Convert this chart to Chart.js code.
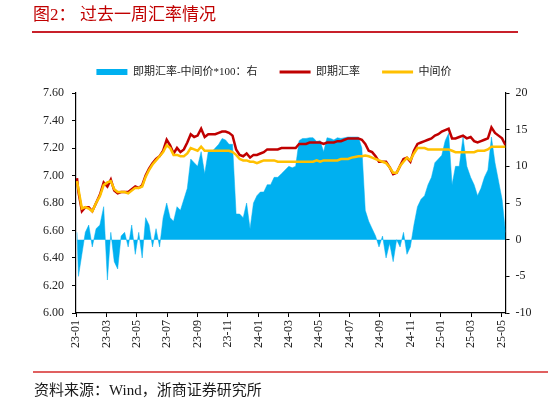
<!DOCTYPE html>
<html lang="zh-CN">
<head>
<meta charset="UTF-8">
<title>过去一周汇率情况</title>
<script src="https://cdn.jsdelivr.net/npm/chart.js"></script>
<style>
  body { margin: 0; background: #fff; }
  #page { position: relative; width: 548px; height: 403px; overflow: hidden; }
  #chartBox { position: absolute; left: 0; top: 0; width: 548px; height: 403px; }
  .title { position: absolute; top: 4px; font-size: 17px; line-height: 22px; color: #c00000;
           font-family: 'Liberation Serif', 'Noto Sans CJK SC', serif; }
  .rule { position: absolute; height: 1.5px; }
  #source { position: absolute; left: 34px; top: 381px; font-size: 15px; line-height: 18px; color: #1a1a1a;
            font-family: 'Liberation Serif', 'Noto Sans CJK SC', serif; }
</style>
</head>
<body>
<div id="page">
  <div id="chartBox"><canvas id="chart"></canvas></div>
  <div class="title" style="left:33px">图2：</div>
  <div class="title" style="left:80px">过去一周汇率情况</div>
  <div class="rule" style="left:32px; top:31px; width:486px; background:#c8202a"></div>
  <div class="rule" style="left:33px; top:371px; width:515px; background:#e06060"></div>
  <div id="source">资料来源：Wind，浙商证券研究所</div>
</div>
<script>
const dates = [
  '2023-01-03','2023-01-06','2023-01-13','2023-01-20','2023-01-27','2023-02-03','2023-02-10','2023-02-17','2023-02-24','2023-03-03',
  '2023-03-10','2023-03-17','2023-03-24','2023-03-31','2023-04-07','2023-04-14','2023-04-21','2023-04-28','2023-05-05','2023-05-12',
  '2023-05-19','2023-05-26','2023-06-02','2023-06-09','2023-06-16','2023-06-23','2023-06-30','2023-07-07','2023-07-14','2023-07-21',
  '2023-07-28','2023-08-04','2023-08-11','2023-08-18','2023-08-25','2023-09-01','2023-09-08','2023-09-15','2023-09-22','2023-09-29',
  '2023-10-06','2023-10-13','2023-10-20','2023-10-27','2023-11-03','2023-11-10','2023-11-17','2023-11-24','2023-12-01','2023-12-08',
  '2023-12-15','2023-12-22','2023-12-29',
  '2024-01-05','2024-01-12','2024-01-19','2024-01-26','2024-02-02','2024-02-09','2024-02-16','2024-02-23','2024-03-01','2024-03-08',
  '2024-03-15','2024-03-22','2024-03-29','2024-04-05','2024-04-12','2024-04-19','2024-04-26','2024-05-03','2024-05-10','2024-05-17',
  '2024-05-24','2024-05-31','2024-06-07','2024-06-14','2024-06-21','2024-06-28','2024-07-05','2024-07-12','2024-07-19','2024-07-26',
  '2024-08-02','2024-08-09','2024-08-16','2024-08-23','2024-08-30','2024-09-06','2024-09-13','2024-09-20','2024-09-27','2024-10-04',
  '2024-10-11','2024-10-18','2024-10-25','2024-11-01','2024-11-08','2024-11-15','2024-11-22','2024-11-29','2024-12-06','2024-12-13',
  '2024-12-20','2024-12-27',
  '2025-01-03','2025-01-10','2025-01-17','2025-01-24','2025-01-31','2025-02-07','2025-02-14','2025-02-21','2025-02-28','2025-03-07',
  '2025-03-14','2025-03-21','2025-03-28','2025-04-04','2025-04-11','2025-04-18','2025-04-25','2025-05-02','2025-05-09'
]

// 即期汇率
const spotRate = [
  6.98, 6.88, 6.74, 6.77, 6.77, 6.74, 6.80, 6.86, 6.95, 6.92,
  6.97, 6.89, 6.87, 6.88, 6.88, 6.88, 6.90, 6.92, 6.91, 6.93,
  7.00, 7.05, 7.09, 7.12, 7.14, 7.18, 7.26, 7.22, 7.16, 7.20,
  7.17, 7.19, 7.24, 7.30, 7.28, 7.29, 7.34, 7.28, 7.30, 7.30,
  7.30, 7.31, 7.32, 7.32, 7.31, 7.29, 7.19, 7.15, 7.14, 7.16,
  7.13, 7.15, 7.15,
  7.16, 7.17, 7.19, 7.19, 7.19, 7.19, 7.20, 7.20, 7.20, 7.20,
  7.20, 7.23, 7.23, 7.23, 7.24, 7.24, 7.24, 7.24, 7.23, 7.24,
  7.24, 7.24, 7.25, 7.25, 7.26, 7.27, 7.27, 7.27, 7.27, 7.26,
  7.23, 7.18, 7.17, 7.14, 7.10, 7.10, 7.10, 7.06, 7.01, 7.02,
  7.07, 7.12, 7.13, 7.10, 7.18, 7.23, 7.24, 7.25, 7.26, 7.27,
  7.29, 7.30,
  7.32, 7.33, 7.34, 7.27, 7.27, 7.28, 7.29, 7.27, 7.28, 7.25,
  7.24, 7.25, 7.26, 7.27, 7.35, 7.31, 7.29, 7.27, 7.22
]

// 中间价
const midRate = [
  6.96, 6.90, 6.76, 6.77, 6.76, 6.74, 6.80, 6.85, 6.93, 6.95,
  6.96, 6.90, 6.88, 6.88, 6.88, 6.87, 6.89, 6.91, 6.91, 6.92,
  6.99, 7.04, 7.08, 7.11, 7.14, 7.17, 7.22, 7.20, 7.15, 7.15,
  7.14, 7.14, 7.16, 7.20, 7.19, 7.18, 7.21, 7.18, 7.18, 7.18,
  7.18, 7.18, 7.18, 7.18, 7.18, 7.17, 7.15, 7.12, 7.11, 7.11,
  7.10, 7.10, 7.09,
  7.10, 7.11, 7.11, 7.11, 7.11, 7.10, 7.10, 7.10, 7.10, 7.10,
  7.10, 7.10, 7.10, 7.10, 7.10, 7.10, 7.11, 7.10, 7.11, 7.11,
  7.11, 7.11, 7.11, 7.12, 7.12, 7.12, 7.13, 7.135, 7.14, 7.14,
  7.145, 7.14, 7.13, 7.12, 7.11, 7.10, 7.09, 7.06, 7.02, 7.02,
  7.07, 7.10, 7.13, 7.11, 7.16, 7.20, 7.20, 7.20, 7.19, 7.19,
  7.19, 7.19,
  7.19, 7.19, 7.19, 7.18, 7.17, 7.17, 7.17, 7.17, 7.17, 7.17,
  7.18, 7.18, 7.18, 7.19, 7.21, 7.21, 7.21, 7.21, 7.21
]

// 即期汇率-中间价*100（右轴）
const spreadX100 = [
  1, -5, -2, 1, 2, -1, 1.5, 2, 4.5, -5.5,
  1, -3, -4, 0.5, 1, -1, 2, -2, 1, -2.5,
  3, 2, -1, 1.5, -1, 3, 5, 3, 2.5, 4.5,
  4, 5.5, 7, 11, 10.5, 10, 12, 9, 12, 12,
  12.5, 13, 13.8, 13.6, 13, 13, 3.5, 3.5, 3, 5,
  1.5, 5, 6,
  6.5, 6.5, 7.5, 7.5, 8.5, 8.5, 9, 9.5, 10, 9.8,
  10, 13.5, 13.8, 13.8, 13.9, 13.9, 13.4, 13.5, 12, 13.9,
  13.8, 13.6, 13.9, 13.8, 13.9, 14, 14, 14, 14, 12.5,
  4, 2.5, 1.5, 0.5, -1, 0.5, -2.5, -0.5, -3, 0,
  -1, 1, -2, -1, 2, 4.5, 5.5, 6, 7.5, 8.5,
  10.5, 11,
  11.5, 13.5, 14.5, 7.5, 10, 10, 14, 10, 8.5, 7.5,
  6, 7, 8.5, 9.5, 14, 10.5, 8, 5.5, 1
]

const tickLabels = ['23-01','23-03','23-05','23-07','23-09','23-11','24-01','24-03',
                    '24-05','24-07','24-09','24-11','25-01','25-03','25-05']

const seriesNames = ['即期汇率-中间价*100：右', '即期汇率', '中间价']

// month position counted from Jan 2023, so ticks land on month starts
function monthPos(d) {
  const [y, m, day] = d.split('-').map(Number)
  const dim = new Date(y, m, 0).getDate()
  return (y - 2023) * 12 + (m - 1) + (day - 1) / dim
}
const xs = dates.map(monthPos)
const toPoints = arr => arr.map((v, i) => ({ x: xs[i], y: v }))

const serif = "'Liberation Serif', 'Noto Sans CJK SC', serif"
const axisBlack = '#000'

const legendGap = {
  id: 'legendGap',
  afterInit(chart) {
    const lg = chart.legend
    const fit = lg.fit
    lg.fit = function () { fit.call(this); this.height += 5.5 }
  }
}

window.onload = function () {
  const ctx = document.getElementById('chart').getContext('2d')
  new Chart(ctx, {
    type: 'line',
    data: {
      datasets: [
        {
          label: seriesNames[0], data: toPoints(spreadX100), yAxisID: 'y1',
          backgroundColor: '#00b0f0', borderColor: '#00b0f0', borderWidth: 0.5,
          fill: 'origin', pointRadius: 0, order: 3
        },
        {
          label: seriesNames[1], data: toPoints(spotRate), yAxisID: 'y',
          borderColor: '#c00000', backgroundColor: '#c00000', borderWidth: 2.5,
          fill: false, pointRadius: 0, order: 2
        },
        {
          label: seriesNames[2], data: toPoints(midRate), yAxisID: 'y',
          borderColor: '#ffc000', backgroundColor: '#ffc000', borderWidth: 2.5,
          fill: false, pointRadius: 0, order: 1
        }
      ]
    },
    options: {
      responsive: true,
      maintainAspectRatio: false,
      animation: false,
      layout: { padding: { top: 44.5, left: 0, right: 0, bottom: 0 } },
      plugins: {
        tooltip: { enabled: false },
        legend: {
          position: 'top',
          labels: {
            usePointStyle: true,
            pointStyleWidth: 31,
            boxHeight: 6,
            padding: 22,
            color: '#222',
            font: { family: serif, size: 11 },
            generateLabels: chart => chart.data.datasets.map((ds, i) => ({
              text: ds.label,
              datasetIndex: i,
              fillStyle: ds.borderColor,
              strokeStyle: ds.borderColor,
              lineWidth: i === 0 ? 0 : 3,
              pointStyle: i === 0 ? 'rect' : 'line',
              hidden: false,
              fontColor: '#222'
            }))
          }
        }
      },
      scales: {
        x: {
          type: 'linear',
          min: 0,
          max: xs[xs.length - 1],
          afterFit: s => { s.height = 90 },
          border: { display: true, color: axisBlack, width: 1.2 },
          grid: { drawOnChartArea: false, drawTicks: true, tickLength: 4, color: axisBlack },
          ticks: {
            stepSize: 2, includeBounds: false, autoSkip: false,
            minRotation: 90, maxRotation: 90, padding: 3,
            color: '#222', font: { family: serif, size: 12 },
            callback: v => tickLabels[Math.round(v / 2)]
          }
        },
        y: {
          position: 'left',
          min: 6.0, max: 7.6,
          afterFit: s => { s.width = 76 },
          border: { display: true, color: axisBlack, width: 1.2 },
          grid: { drawOnChartArea: false, drawTicks: true, tickLength: 4, color: axisBlack },
          ticks: {
            stepSize: 0.2, padding: 8, color: '#222', font: { family: serif, size: 12 },
            callback: v => Number(v).toFixed(2)
          }
        },
        y1: {
          position: 'right',
          min: -10, max: 20,
          afterFit: s => { s.width = 42.5 },
          border: { display: true, color: axisBlack, width: 1.2 },
          grid: { drawOnChartArea: false, drawTicks: true, tickLength: 4, color: axisBlack },
          ticks: {
            stepSize: 5, padding: 6, color: '#222', font: { family: serif, size: 12 }
          }
        }
      }
    },
    plugins: [legendGap]
  })
}
</script>
</body>
</html>
